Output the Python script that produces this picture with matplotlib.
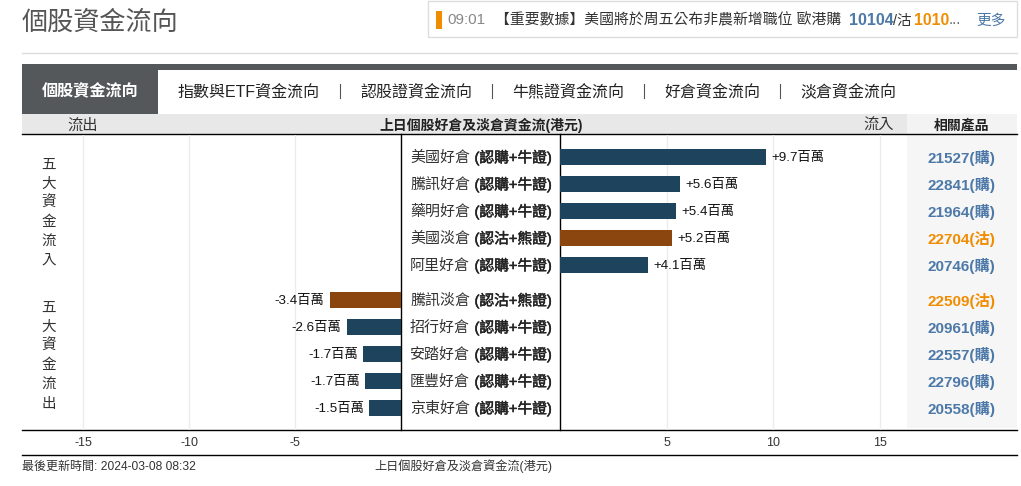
import matplotlib
matplotlib.use("Agg")
import matplotlib.pyplot as plt
import matplotlib.patheffects as pe
from matplotlib.patches import Rectangle

plt.rcParams['font.family'] = ['Liberation Sans', 'Noto Sans CJK TC', 'DejaVu Sans']

# =====================================================
# DATA
# =====================================================

inflow_names = ["美國好倉", "騰訊好倉", "藥明好倉", "美國淡倉", "阿里好倉"]
inflow_types = ["(認購+牛證)", "(認購+牛證)", "(認購+牛證)", "(認沽+熊證)", "(認購+牛證)"]
inflow_values = [9.67, 5.63, 5.45, 5.26, 4.13]
inflow_labels = ["+9.7百萬", "+5.6百萬", "+5.4百萬", "+5.2百萬", "+4.1百萬"]
inflow_products = ["21527(購)", "22841(購)", "21964(購)", "22704(沽)", "20746(購)"]
inflow_side = ["bull", "bull", "bull", "bear", "bull"]

outflow_names = ["騰訊淡倉", "招行好倉", "安踏好倉", "匯豐好倉", "京東好倉"]
outflow_types = ["(認沽+熊證)", "(認購+牛證)", "(認購+牛證)", "(認購+牛證)", "(認購+牛證)"]
outflow_values = [-3.37, -2.57, -1.77, -1.68, -1.49]
outflow_labels = ["-3.4百萬", "-2.6百萬", "-1.7百萬", "-1.7百萬", "-1.5百萬"]
outflow_products = ["22509(沽)", "20961(購)", "22557(購)", "22796(購)", "20558(購)"]
outflow_side = ["bear", "bull", "bull", "bull", "bull"]

left_ticks = [-15, -10, -5]
right_ticks = [5, 10, 15]

tabs = ["指數與ETF資金流向", "認股證資金流向", "牛熊證資金流向", "好倉資金流向", "淡倉資金流向"]
tab_x = [178, 360, 512, 664, 800]
tab_sep_x = [340, 492, 644, 780]

# =====================================================
# LAYOUT (pixels)
# =====================================================

W, H = 1021, 486
RIGHT = 1017
PX_L, PX_R = 21.2, 21.3  # pixels per 1 million
ZERO_L, ZERO_R = 401, 560
TOP, BOTTOM = 135, 430
in_rows = [157, 184, 211, 238, 265]
out_rows = [300, 327, 354, 381, 408]
BAR_H = 16

COLORS = {"bull": "#1d445c", "bear": "#8a460e"}
TEXT_COLORS = {"bull": "#4d79a8", "bear": "#f08c00"}
SEMI_BOLD = [pe.withStroke(linewidth=0.35, foreground="#222222")]

fig = plt.figure(figsize=(W / 100, H / 100), dpi=100, facecolor="white")

bg = fig.add_axes([0, 0, 1, 1])
bg.set_xlim(0, W)
bg.set_ylim(H, 0)
bg.axis("off")


def make_axes(x0, x1, xlim):
    ax = fig.add_axes([x0 / W, 1 - BOTTOM / H, (x1 - x0) / W, (BOTTOM - TOP) / H])
    ax.set_xlim(*xlim)
    ax.set_ylim(BOTTOM, TOP)
    ax.patch.set_alpha(0)
    ax.axis("off")
    return ax


ax_l = make_axes(22, ZERO_L, (-(ZERO_L - 22) / PX_L, 0))
ax_r = make_axes(ZERO_R, 907, (0, (907 - ZERO_R) / PX_R))


def row_text(x, y, s, **kw):
    # center_baseline keeps mixed latin/CJK rows on one line
    return bg.text(x, y, s, va="center_baseline", **kw)


# =====================================================
# PAGE CHROME
# =====================================================

row_text(22, 20, "個股資金流向", fontsize=18.8, color="#555555")

bg.add_patch(Rectangle((427.5, 1.5), 589, 36, fc="white", ec="#dddddd", lw=1))
bg.add_patch(Rectangle((436, 11), 6, 18, fc="#f08c00", ec="none"))
row_text(447, 19, "09:01", fontsize=11, color="#888888")
row_text(495, 19, "【重要數據】美國將於周五公布非農新增職位 歐港購", fontsize=10.7, color="#333333")
row_text(849, 19, "10104", fontsize=11.5, color="#4d79a8", fontweight="bold")
row_text(893, 19, "/沽", fontsize=10.4, color="#333333")
row_text(914, 19, "1010", fontsize=11.3, color="#f08c00", fontweight="bold")
row_text(949, 19, "...", fontsize=11, color="#666666")
row_text(976, 19, "更多", fontsize=10.6, color="#4d79a8")

bg.plot([22, RIGHT], [53, 53], color="#dddddd", lw=1)

bg.add_patch(Rectangle((22, 64), RIGHT - 22, 6, fc="#54585b", ec="none"))
bg.add_patch(Rectangle((22, 70), 136, 44, fc="#54585b", ec="none"))
row_text(90, 90, "個股資金流向", fontsize=11.6, color="white", ha="center", fontweight="bold")
for label, x in zip(tabs, tab_x):
    row_text(x, 90, label, fontsize=11.5, color="#222222")
for x in tab_sep_x:
    bg.plot([x, x], [84, 98], color="#555555", lw=0.8)

# header band
bg.add_patch(Rectangle((22, 114), 885, 20, fc="#e8e8e8", ec="none"))
bg.add_patch(Rectangle((907, 114), RIGHT - 907, 20, fc="#f3f3f3", ec="none"))
row_text(83, 124, "流出", fontsize=11, color="#333333", ha="center")
row_text(481, 124, "上日個股好倉及淡倉資金流(港元)", fontsize=10, color="#222222", ha="center", fontweight="bold")
row_text(879, 124, "流入", fontsize=11, color="#333333", ha="center")
row_text(961, 124, "相關產品", fontsize=10, color="#222222", ha="center", fontweight="bold")

# product panel
bg.add_patch(Rectangle((907, 134), RIGHT - 907, 294, fc="#f6f6f6", ec="none"))

# =====================================================
# BARS
# =====================================================

for t in left_ticks:
    ax_l.axvline(t, color="#ececec", lw=1, zorder=0)
for t in right_ticks:
    ax_r.axvline(t, color="#ececec", lw=1, zorder=0)

ax_r.barh(in_rows, inflow_values, height=BAR_H, color=[COLORS[s] for s in inflow_side], zorder=2)
ax_l.barh(out_rows, outflow_values, height=BAR_H, color=[COLORS[s] for s in outflow_side], zorder=2)

for y, v, s in zip(in_rows, inflow_values, inflow_labels):
    ax_r.annotate(s, (v, y - 1), xytext=(5, 0), textcoords="offset pixels", fontsize=9.6,
                  color="#111111", va="center_baseline", ha="left")
for y, v, s in zip(out_rows, outflow_values, outflow_labels):
    ax_l.annotate(s, (v, y - 1), xytext=(-5, 0), textcoords="offset pixels", fontsize=9.6,
                  color="#111111", va="center_baseline", ha="right")

# row names and product codes
rows = in_rows + out_rows
names = inflow_names + outflow_names
types = inflow_types + outflow_types
products = inflow_products + outflow_products
sides = inflow_side + outflow_side
for y, n, t, p, s in zip(rows, names, types, products, sides):
    row_text(410, y - 1, n, fontsize=10.8, color="#333333")
    row_text(552, y - 1, t, fontsize=10.6, color="#222222", ha="right", path_effects=SEMI_BOLD)
    row_text(961, y - 1, p, fontsize=11, color=TEXT_COLORS[s], ha="center", fontweight="bold")

# side captions, one character a line
for i, ch in enumerate("五大資金流入"):
    row_text(49, 163 + i * 19.2, ch, fontsize=10.5, color="#333333", ha="center")
for i, ch in enumerate("五大資金流出"):
    row_text(49, 306 + i * 19.2, ch, fontsize=10.5, color="#333333", ha="center")

# =====================================================
# AXIS LINES AND FOOTER
# =====================================================

bg.plot([ZERO_L, ZERO_L], [134, 430], color="black", lw=1, zorder=5)
bg.plot([ZERO_R, ZERO_R], [134, 430], color="black", lw=1, zorder=5)
bg.plot([22, RIGHT], [134.5, 134.5], color="black", lw=1, zorder=5)
bg.plot([22, RIGHT], [429.5, 429.5], color="black", lw=1, zorder=5)
bg.plot([22, RIGHT], [455, 455], color="black", lw=1, zorder=5)

for t in left_ticks:
    row_text(ZERO_L + t * PX_L, 441, str(t), fontsize=9, color="#333333", ha="center")
for t in right_ticks:
    row_text(ZERO_R + t * PX_R, 441, str(t), fontsize=9, color="#333333", ha="center")

row_text(22, 465, "最後更新時間: 2024-03-08 08:32", fontsize=8.65, color="#333333")
row_text(552, 465, "上日個股好倉及淡倉資金流(港元)", fontsize=8.75, color="#333333", ha="right")

fig.savefig("out.png", dpi=100)
